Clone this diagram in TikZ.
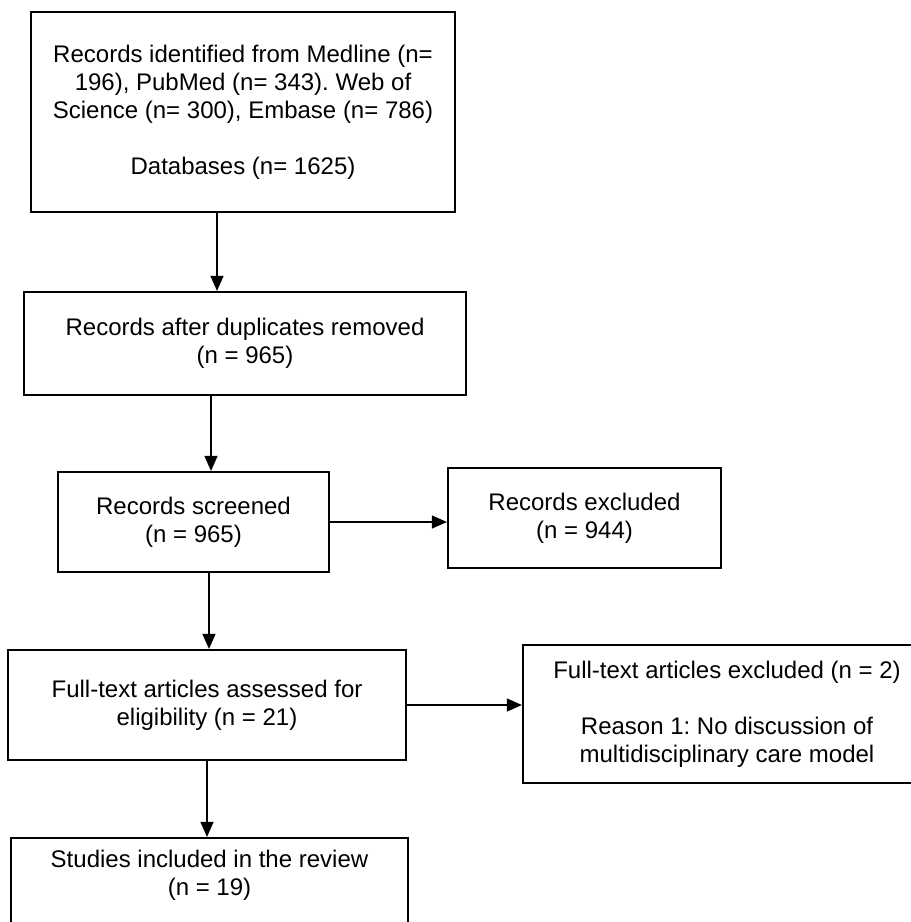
\documentclass[tikz,border=0pt]{standalone}
\usepackage{fontspec}
\setmainfont{Liberation Sans}
\usetikzlibrary{arrows.meta}
\frenchspacing

\begin{document}
\begin{tikzpicture}[x=0.5pt,y=-0.5pt,
    box/.style={draw,line width=1.1pt,align=center,inner sep=0pt,font=\fontsize{12}{14}\selectfont},
    arr/.style={line width=0.6pt,-{Triangle[length=7.5pt,width=6.5pt]}}]
    %%%%% START %%%%%
    \useasboundingbox (0,0) rectangle (911,922);

    \node[box,minimum width=212pt,minimum height=100pt] (src) at (243,112)
        {Records identified from Medline (n=\\196), PubMed (n= 343). Web of\\Science (n= 300), Embase (n= 786)\\[14pt]Databases (n= 1625)};
    \node[box,minimum width=221pt,minimum height=51.5pt] (dup) at (245,343.5)
        {Records after duplicates removed\\(n = 965)};
    \node[box,minimum width=135.5pt,minimum height=50pt] (scr) at (193.5,522)
        {Records screened\\(n = 965)};
    \node[box,minimum width=136.5pt,minimum height=50pt] (exc) at (584.5,518)
        {Records excluded\\(n = 944)};
    \node[box,minimum width=199pt,minimum height=55pt] (elig) at (207,705)
        {Full-text articles assessed for\\eligibility (n = 21)};
    \node[box,minimum width=204pt,minimum height=69pt] (ftx) at (727,714)
        {Full-text articles excluded (n = 2)\\[14pt]Reason 1: No discussion of\\multidisciplinary care model};
    \node[box,minimum width=198.5pt,minimum height=53pt] (inc) at (209.5,891)
        {Studies included in the review\\(n = 19)\\\strut};

    % down arrows sit a bit left of the box centres
    \coordinate (a1) at (217,0);
    \coordinate (a2) at (211,0);
    \coordinate (a3) at (209,0);
    \coordinate (a4) at (207,0);
    \draw[arr] (a1 |- src.south) -- (a1 |- dup.north);
    \draw[arr] (a2 |- dup.south) -- (a2 |- scr.north);
    \draw[arr] (a3 |- scr.south) -- (a3 |- elig.north);
    \draw[arr] (a4 |- elig.south) -- (a4 |- inc.north);

    \draw[arr] (scr.east) -- (scr.east -| exc.west);
    \draw[arr] (elig.east) -- (elig.east -| ftx.west);
    %%%%% END %%%%%
\end{tikzpicture}
\end{document}
